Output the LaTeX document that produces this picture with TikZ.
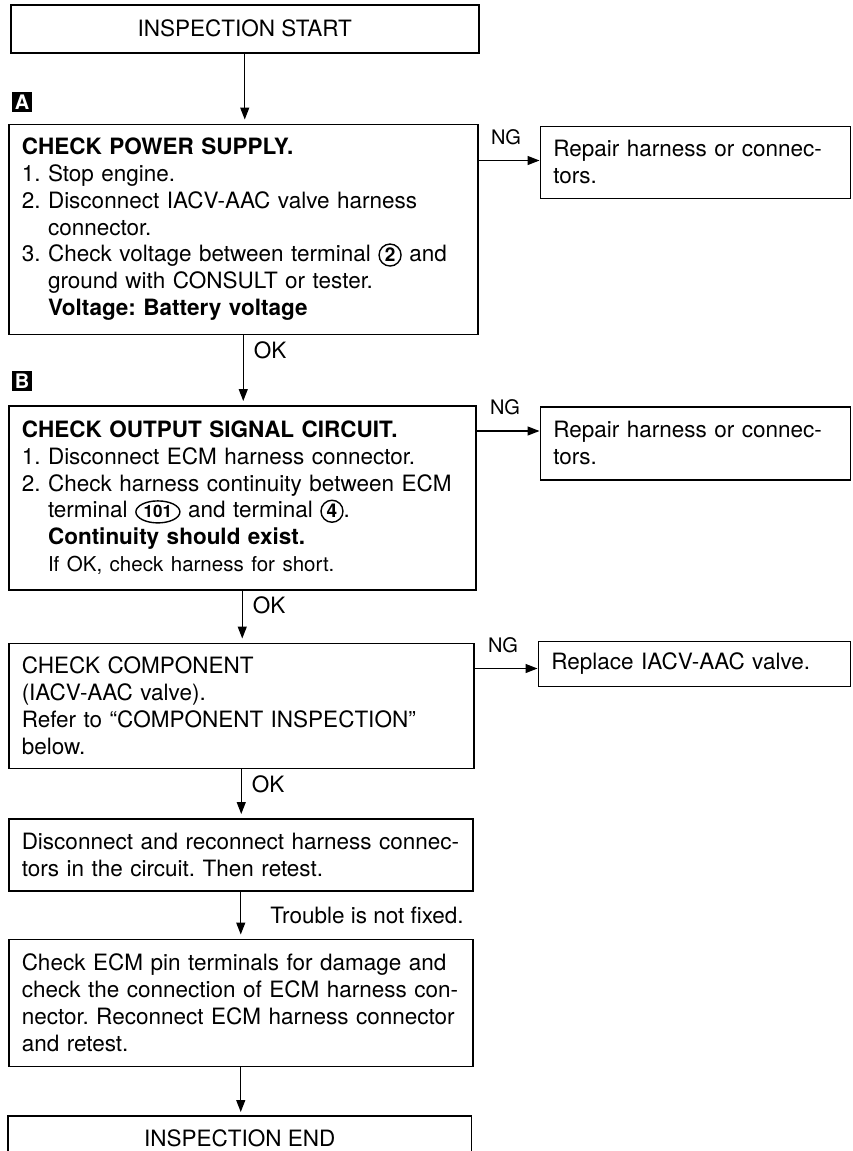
\documentclass[tikz,border=0pt]{standalone}
\usepackage{fontspec}
\setmainfont{TeX Gyre Heros}
\usetikzlibrary{positioning,arrows.meta,shapes.geometric}
\frenchspacing

% circled terminal numbers
\newcommand{\cnum}[1]{\tikz[baseline=(cn.base)]\node[draw,circle,line width=1.4pt,inner sep=0pt,minimum size=22pt,font=\fontsize{19}{19}\selectfont\bfseries] (cn) {#1};}
\newcommand{\onum}[1]{\tikz[baseline=(cn.base)]\node[draw,ellipse,line width=1.4pt,inner xsep=0pt,inner ysep=0pt,minimum height=22pt,minimum width=44pt,font=\fontsize{17}{17}\selectfont\bfseries] (cn) {#1};}
\newcommand{\ind}{\hphantom{2.\ }}

\begin{document}
\begin{tikzpicture}[
			x=1pt, y=1pt,
			>={Triangle[length=12pt,width=9pt]},
			font=\fontsize{22.5}{26.8}\selectfont,
			stepbox/.style={
				draw,
				line width=1.5pt,
				align=left,
				inner xsep=13pt,
				inner ysep=4pt
			},
			endbox/.style={
				align=center,
				minimum height=48pt
			},
			tag/.style={
				fill=black,
				text=white,
				minimum size=20pt,
				inner sep=0pt,
				font=\fontsize{20}{20}\selectfont\bfseries
			},
			lbl/.style={inner sep=1pt},
			arr/.style={->, line width=1.3pt, shorten >=4pt},
			side/.style={->, line width=1.3pt}
			]
			
			\useasboundingbox (0,0) rectangle (853,-1151);
			\clip (0,0) rectangle (853,-1151);
			
			%%%%%%%%%%%%%%%%%%%%%%%%%%%%%%%%%%%%%%%%%%%%%%%%%%%%%%
			% Nodes
			%%%%%%%%%%%%%%%%%%%%%%%%%%%%%%%%%%%%%%%%%%%%%%%%%%%%%%
			
			\node (start) [endbox, draw, line width=1.5pt, minimum width=468pt, anchor=north west] at (10,-4)
			{INSPECTION START};
			
			\node (chkpower) [stepbox, text width=443pt, minimum height=210pt,
			below=70pt of start.south west, anchor=north west, xshift=-2pt]
			{\textbf{CHECK POWER SUPPLY.}\\
				1. Stop engine.\\
				2. Disconnect IACV-AAC valve harness\\
				\ind connector.\\
				3. Check voltage between terminal \cnum{2} and\\
				\ind ground with CONSULT or tester.\\
				\ind\textbf{Voltage: Battery voltage}};
			
			\node (tagA) [tag, above=11pt of chkpower.north west, anchor=south west, xshift=4pt] {A};
			
			\node (repairA) [stepbox, text width=284pt, minimum height=72pt,
			right=61pt of chkpower.north east, anchor=north west, yshift=-2pt]
			{Repair harness or connec-\\tors.};
			
			\node (chkoutput) [stepbox, text width=441pt, minimum height=184pt,
			below=70pt of chkpower.south west, anchor=north west]
			{\textbf{CHECK OUTPUT SIGNAL CIRCUIT.}\\
				1. Disconnect ECM harness connector.\\
				2. Check harness continuity between ECM\\
				\ind terminal \onum{101} and terminal \cnum{4}.\\
				\ind\textbf{Continuity should exist.}\\
				\ind{\fontsize{20.5}{26.8}\selectfont If OK, check harness for short.}};
			
			\node (tagB) [tag, above=14pt of chkoutput.north west, anchor=south west, xshift=4pt] {B};
			
			\node (repairB) [stepbox, text width=284pt, minimum height=73pt,
			right=63pt of chkoutput.north east, anchor=north west, yshift=-1pt]
			{Repair harness or connec-\\tors.};
			
			\node (chkcomp) [stepbox, text width=439pt, minimum height=125pt,
			below=52pt of chkoutput.south west, anchor=north west]
			{CHECK COMPONENT\\
				(IACV-AAC valve).\\
				Refer to “COMPONENT INSPECTION”\\
				below.};
			
			\node (replace) [stepbox, text width=286pt, minimum height=45pt,
			right=63pt of chkcomp.north east, anchor=north west, yshift=2pt]
			{Replace IACV-AAC valve.};
			
			\node (reconn) [stepbox, text width=438pt, minimum height=72pt,
			below=49pt of chkcomp.south west, anchor=north west]
			{Disconnect and reconnect harness connec-\\
				tors in the circuit. Then retest.};
			
			\node (ecmpin) [stepbox, text width=438pt, minimum height=127pt,
			below=47pt of reconn.south west, anchor=north west]
			{Check ECM pin terminals for damage and\\
				check the connection of ECM harness con-\\
				nector. Reconnect ECM harness connector\\
				and retest.};
			
			% last box runs off the page, so no bottom edge
			\node (finish) [endbox, minimum width=463pt, minimum height=44pt,
			below=49pt of ecmpin.south west, anchor=north west]
			{INSPECTION END};
			\draw[line width=1.5pt] (finish.south west) |- (finish.north east) -- (finish.south east);
			
			%%%%%%%%%%%%%%%%%%%%%%%%%%%%%%%%%%%%%%%%%%%%%%%%%%%%%%
			% Main Flow
			%%%%%%%%%%%%%%%%%%%%%%%%%%%%%%%%%%%%%%%%%%%%%%%%%%%%%%
			
			\draw[arr] (start.south) -- (start.south |- chkpower.north);
			
			\draw[arr] (chkpower.south) -- (chkpower.south |- chkoutput.north)
			node[lbl, pos=0, anchor=north west, xshift=9pt, yshift=-5pt] {OK};
			
			\draw[arr] (chkoutput.south) -- (chkoutput.south |- chkcomp.north)
			node[lbl, pos=0, anchor=north west, xshift=9pt, yshift=-5pt] {OK};
			
			\draw[arr] (chkcomp.south) -- (chkcomp.south |- reconn.north)
			node[lbl, pos=0, anchor=north west, xshift=9pt, yshift=-5pt] {OK};
			
			\draw[arr] (reconn.south) -- (reconn.south |- ecmpin.north)
			node[lbl, midway, right=28pt] {Trouble is not fixed.};
			
			\draw[arr] (ecmpin.south) -- (ecmpin.south |- finish.north);
			
			%%%%%%%%%%%%%%%%%%%%%%%%%%%%%%%%%%%%%%%%%%%%%%%%%%%%%%
			% NG Branches
			%%%%%%%%%%%%%%%%%%%%%%%%%%%%%%%%%%%%%%%%%%%%%%%%%%%%%%
			
			\coordinate (ngA) at ([yshift=-37pt]chkpower.north east);
			\coordinate (ngB) at ([yshift=-26pt]chkoutput.north east);
			\coordinate (ngC) at ([yshift=-26pt]chkcomp.north east);
			
			\draw[side] (ngA) -- (ngA -| repairA.west)
			node[lbl, midway, above=14pt, xshift=-3pt, font=\fontsize{20}{20}\selectfont] {NG};
			
			\draw[side] (ngB) -- (ngB -| repairB.west)
			node[lbl, midway, above=14pt, xshift=-3pt, font=\fontsize{20}{20}\selectfont] {NG};
			
			\draw[side] (ngC) -- (ngC -| replace.west)
			node[lbl, midway, above=14pt, xshift=-3pt, font=\fontsize{20}{20}\selectfont] {NG};
			
			%%%%%%%%%%%%%%%%%%%%%%%%%%%%%%%%%%%%%%%%%%%%%%%%%%%%%%
			
		\end{tikzpicture}
\end{document}
